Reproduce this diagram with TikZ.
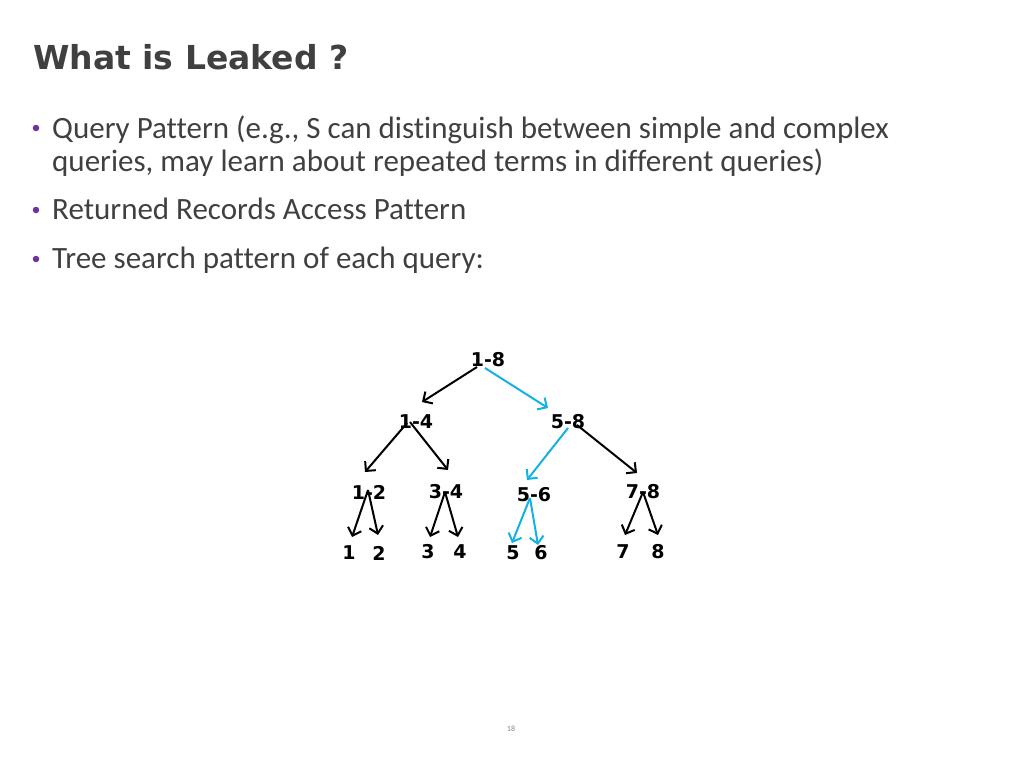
\documentclass[tikz,border=0pt]{standalone}
\usepackage{fontspec}
\setmainfont{Carlito}[Ligatures=CommonOff]
\newfontfamily\headfont{DejaVu Sans}
\usetikzlibrary{arrows.meta}
\definecolor{slidegray}{HTML}{404040}
\definecolor{bulletpurple}{HTML}{7030A0}
\definecolor{pathcyan}{HTML}{14B1E7}
\tikzset{
>={Straight Barb[length=7pt,width=14pt]}, % open arrow heads
item/.style={anchor=base west, inner sep=0, text=slidegray, font=\fontsize{31}{33}\selectfont}, % bullet text
dot/.style={circle, fill=bulletpurple, inner sep=0, minimum size=6.5pt}, % purple bullets
rangelabel/.style={inner sep=0, font=\headfont\bfseries\fontsize{19}{19}\selectfont}, % tree labels
edge/.style={->, line width=2pt}, % tree edges
hit/.style={edge, draw=pathcyan}, % searched path
}

\begin{document}
\begin{tikzpicture}[x=1pt, y=-1pt]
        \useasboundingbox[fill=white] (0,0) rectangle (1024,768);

        \node[anchor=base west, inner sep=0, text=slidegray, font=\headfont\bfseries\fontsize{33}{33}\selectfont] (title) at (33,70) {What is Leaked ?};

        \node[dot] (b1) at (36,128) {};
        \node[item] (q1) at (52,138) {Query Pattern (e.g., S can distinguish between simple and complex};
        \node[item] (q2) at (52,171) {queries, may learn about repeated terms in different queries)};
        \node[dot] (b2) at (36,210) {};
        \node[item] (q3) at (52,219) {Returned Records Access Pattern};
        \node[dot] (b3) at (36,259) {};
        \node[item] (q4) at (52,268) {Tree search pattern of each query:};

        \node[rangelabel] (n18) at (488,360) {1-8};
        \node[rangelabel] (n14) at (416,422) {1-4};
        \node[rangelabel] (n58) at (568,422) {5-8};
        \node[rangelabel] (n12) at (369,492) {1-2};
        \node[rangelabel] (n34) at (446,492) {3-4};
        \node[rangelabel] (n56) at (534,495) {5-6};
        \node[rangelabel] (n78) at (643,492) {7-8};
        \node[rangelabel] (l1) at (349,553) {1};
        \node[rangelabel] (l2) at (379,553) {2};
        \node[rangelabel] (l3) at (428,552) {3};
        \node[rangelabel] (l4) at (460,552) {4};
        \node[rangelabel] (l5) at (513,553) {5};
        \node[rangelabel] (l6) at (541,553) {6};
        \node[rangelabel] (l7) at (623,552) {7};
        \node[rangelabel] (l8) at (658,552) {8};

        \draw[edge] ([shift={(-11,7)}]n18.center) -- ([shift={(6,-20)}]n14.center);
        \draw[hit] ([shift={(-3,8)}]n18.center) -- ([shift={(-20,-14)}]n58.center);
        \draw[edge] ([shift={(-9,1)}]n14.center) -- ([shift={(-4,-20)}]n12.center);
        \draw[edge] ([shift={(-6,0)}]n14.center) -- ([shift={(2,-22)}]n34.center);
        \draw[hit] ([shift={(0,6)}]n58.center) -- ([shift={(-7,-15)}]n56.center);
        \draw[edge] ([shift={(9,3)}]n58.center) -- ([shift={(-6,-19)}]n78.center);

        \draw[edge] ([shift={(-1,-2)}]n12.center) -- ([shift={(3,-16)}]l1.center);
        \draw[edge] ([shift={(-1,-2)}]n12.center) -- ([shift={(-1,-18)}]l2.center);
        \draw[edge] ([shift={(-1,0)}]n34.center) -- ([shift={(2,-15)}]l3.center);
        \draw[edge] ([shift={(-1,0)}]n34.center) -- ([shift={(-2,-15)}]l4.center);
        \draw[hit] ([shift={(-4,3)}]n56.center) -- ([shift={(-1,-10)}]l5.center);
        \draw[hit] ([shift={(-4,3)}]n56.center) -- ([shift={(-3,-8)}]l6.center);
        \draw[edge] (n78.center) -- ([shift={(2,-17)}]l7.center);
        \draw[edge] (n78.center) -- ([shift={(0,-17)}]l8.center);

        \node[inner sep=0, text=gray, font=\fontsize{8}{8}\selectfont] (page) at (511,729) {18};
    \end{tikzpicture}
\end{document}
